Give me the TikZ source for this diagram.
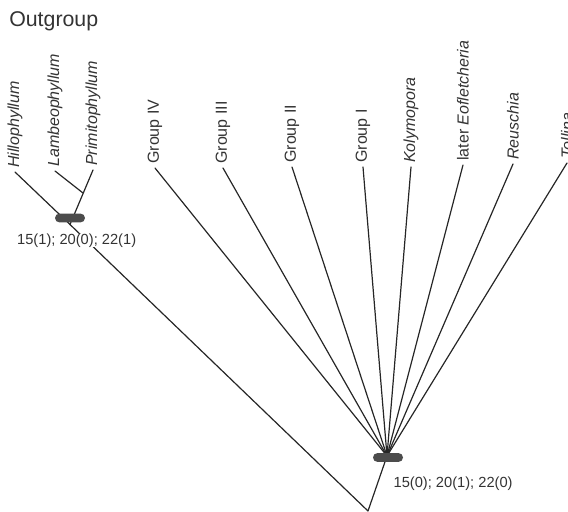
\documentclass[tikz,border=0pt]{standalone}
\usepackage{fontspec}
\setmainfont{Liberation Sans}
\usetikzlibrary{positioning}

\begin{document}
\begin{tikzpicture}[x=0.75pt,y=-0.75pt,line cap=round,
  branch/.style={draw=black!85,line width=0.9pt},
  taxon/.style={rotate=90,anchor=west,inner sep=3pt,text=black!80,font=\fontsize{12}{14}\selectfont},
  synapo/.style={draw=none,fill=black!70,rounded corners=3.3pt,minimum width=22.5pt,minimum height=6.6pt,inner sep=0pt},
  states/.style={text=black!80,fill=white,font=\fontsize{11}{13}\selectfont,inner sep=0pt}]
\useasboundingbox (0,0) rectangle (568,511);
\node[anchor=base west,inner sep=0pt,text=black!80,font=\fontsize{16}{18}\selectfont] (outg) at (9,26) {Outgroup};
% tips of the outgroup
\coordinate (hil) at (15,172);
\coordinate (lam) at (55,171);
\coordinate (pri) at (93,170);
% tips of the ingroup
\coordinate (g4) at (155,168);
\coordinate (g3) at (223,168);
\coordinate (g2) at (292,167);
\coordinate (g1) at (363,167);
\coordinate (kol) at (411,167);
\coordinate (eof) at (463,165);
\coordinate (reu) at (513,164);
\coordinate (tol) at (567,163);
% inner nodes
\coordinate (lj) at (83,193);
\coordinate (oj) at (70,224.5);
\coordinate (ij) at (387,456);
\coordinate (root) at (368,511);
\node[taxon] (hilL) at (hil) {\itshape Hillophyllum};
\node[taxon] (lamL) at (lam) {\itshape Lambeophyllum};
\node[taxon] (priL) at (pri) {\itshape Primitophyllum};
\node[taxon] (g4L) at (g4) {Group IV};
\node[taxon] (g3L) at (g3) {Group III};
\node[taxon] (g2L) at (g2) {Group II};
\node[taxon] (g1L) at (g1) {Group I};
\node[taxon] (kolL) at (kol) {\itshape Kolymopora};
\node[taxon] (eofL) at (eof) {later \textit{Eofletcheria}};
\node[taxon] (reuL) at (reu) {\itshape Reuschia};
\node[taxon] (tolL) at (tol) {\itshape Tollina};
\draw[branch] (hil) -- (oj) -- (root);
\draw[branch] (lam) -- (lj);
\draw[branch] (pri) -- (oj);
\draw[branch] (g4) -- (ij);
\draw[branch] (g3) -- (ij);
\draw[branch] (g2) -- (ij);
\draw[branch] (g1) -- (ij);
\draw[branch] (kol) -- (ij);
\draw[branch] (eof) -- (ij);
\draw[branch] (reu) -- (ij);
\draw[branch] (tol) -- (ij);
\draw[branch] (ij) -- (root);
\node[synapo] (obar) at (70,218) {};
\node[synapo] (ibar) at (388,457.5) {};
\node[states,below=8pt of obar,xshift=5pt] (ochr) {15(1); 20(0); 22(1)};
\node[states,anchor=north west] (ichr) at ([xshift=4pt,yshift=-11pt]ibar.south) {15(0); 20(1); 22(0)};
\end{tikzpicture}
\end{document}
